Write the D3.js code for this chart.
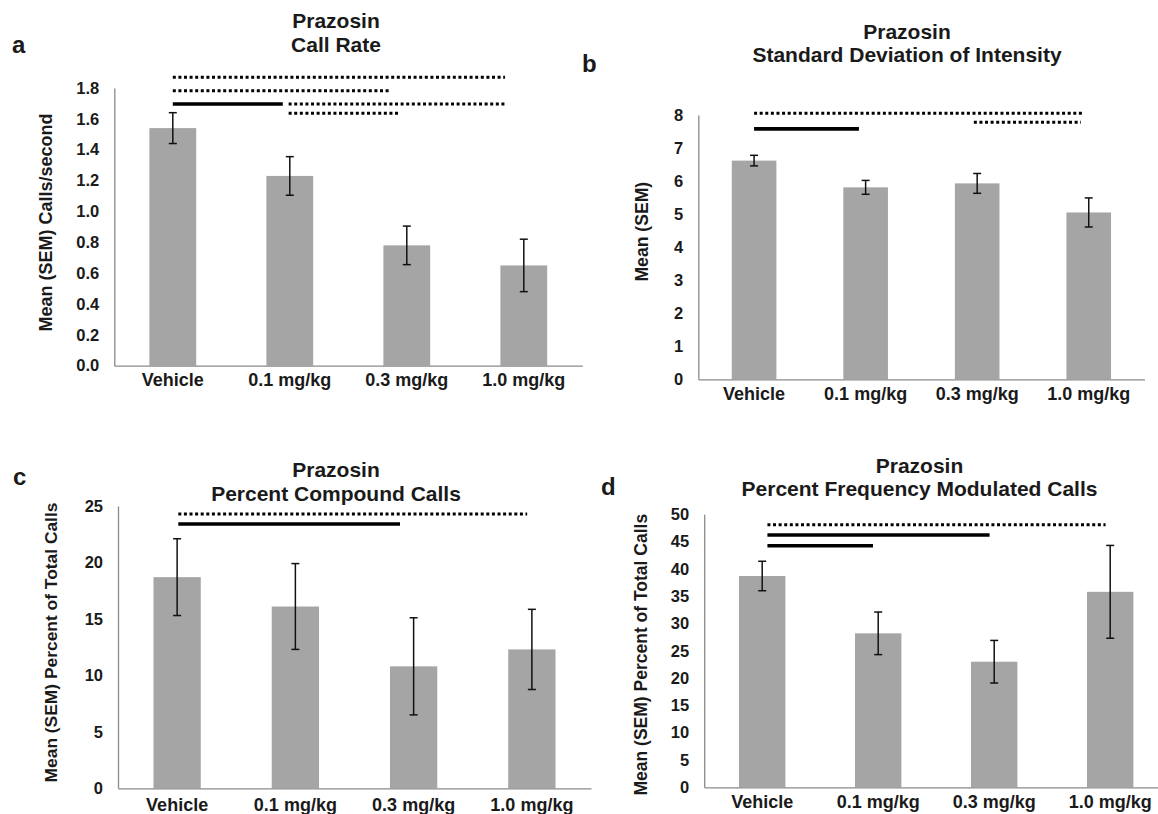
<!DOCTYPE html>
<html>
<head>
<meta charset="utf-8">
<script src="https://cdn.jsdelivr.net/npm/d3@7"></script>
<style>
  html, body { margin: 0; padding: 0; background: #fff; }
  svg { display: block; font-family: "Liberation Sans", Arial, Helvetica, sans-serif; }
  text { font-weight: bold; fill: #1a1a1a; }
</style>
</head>
<body>
<div id="chart"></div>
<script>
// ---------------- DATA ----------------
const categories = ["Vehicle", "0.1 mg/kg", "0.3 mg/kg", "1.0 mg/kg"];

const callRateMean = [1.54, 1.23, 0.78, 0.65];
const callRateSem  = [0.10, 0.125, 0.125, 0.17];
const callRateTicks = [0.0, 0.2, 0.4, 0.6, 0.8, 1.0, 1.2, 1.4, 1.6, 1.8];

const sdIntensityMean = [6.62, 5.81, 5.93, 5.05];
const sdIntensitySem  = [0.16, 0.21, 0.30, 0.44];
const sdIntensityTicks = [0, 1, 2, 3, 4, 5, 6, 7, 8];

const compoundMean = [18.7, 16.1, 10.8, 12.3];
const compoundSem  = [3.4, 3.8, 4.3, 3.55];
const compoundTicks = [0, 5, 10, 15, 20, 25];

const fmMean = [38.7, 28.2, 23.0, 35.8];
const fmSem  = [2.7, 3.9, 3.9, 8.5];
const fmTicks = [0, 5, 10, 15, 20, 25, 30, 35, 40, 45, 50];

// significance bars: from/to in category index units, level in data units
const callRateSig = [
  { from: 0.00, to: 2.84, level: 1.870, dashed: true },
  { from: 0.00, to: 1.85, level: 1.782, dashed: true },
  { from: 0.00, to: 0.94, level: 1.696, dashed: false },
  { from: 0.99, to: 2.85, level: 1.696, dashed: true },
  { from: 0.99, to: 1.93, level: 1.636, dashed: true }
];
const sdIntensitySig = [
  { from: 0.00, to: 2.95, level: 8.05, dashed: true },
  { from: 0.00, to: 0.94, level: 7.58, dashed: false },
  { from: 1.97, to: 2.93, level: 7.78, dashed: true }
];
const compoundSig = [
  { from: 0.01, to: 2.96, level: 24.3, dashed: true },
  { from: 0.01, to: 1.885, level: 23.4, dashed: false }
];
const fmSig = [
  { from: 0.045, to: 2.96, level: 48.1, dashed: true },
  { from: 0.045, to: 1.96, level: 46.2, dashed: false },
  { from: 0.045, to: 0.955, level: 44.25, dashed: false }
];

// ---------------- LAYOUT ----------------
const W = 1158, H = 814;
const svg = d3.select("#chart").append("svg").attr("width", W).attr("height", H);

const panels = [
  { letter: "a", title: ["Prazosin", "Call Rate"], ylabel: "Mean (SEM) Calls/second",
    mean: callRateMean, sem: callRateSem, ticks: callRateTicks, fmt: d3.format(".1f"), max: 1.8, sig: callRateSig,
    x0: 114.3, x1: 582.3, yTop: 88, yBot: 365.7,
    letterX: 12, letterY: 53, titleX: 336, titleY: [28.3, 52.3], ylabelX: 52, ylabelY: 222.5, ylabelSize: 18, xPad: 8 },
  { letter: "b", title: ["Prazosin", "Standard Deviation of Intensity"], ylabel: "Mean (SEM)",
    mean: sdIntensityMean, sem: sdIntensitySem, ticks: sdIntensityTicks, fmt: d3.format("d"), max: 8, sig: sdIntensitySig,
    x0: 698.3, x1: 1144.5, yTop: 115, yBot: 379.3,
    letterX: 582, letterY: 71.7, titleX: 907, titleY: [39, 62.3], ylabelX: 648, ylabelY: 231.7, ylabelSize: 17.6, xPad: 8 },
  { letter: "c", title: ["Prazosin", "Percent Compound Calls"], ylabel: "Mean (SEM) Percent of Total Calls",
    mean: compoundMean, sem: compoundSem, ticks: compoundTicks, fmt: d3.format("d"), max: 25, sig: compoundSig,
    x0: 118, x1: 591, yTop: 506, yBot: 788.3,
    letterX: 13, letterY: 485, titleX: 336, titleY: [477.3, 500.7], ylabelX: 57, ylabelY: 642.5, ylabelSize: 17.4, xPad: 10 },
  { letter: "d", title: ["Prazosin", "Percent Frequency Modulated Calls"], ylabel: "Mean (SEM) Percent of Total Calls",
    mean: fmMean, sem: fmSem, ticks: fmTicks, fmt: d3.format("d"), max: 50, sig: fmSig,
    x0: 704.2, x1: 1168.2, yTop: 514.3, yBot: 787.3,
    letterX: 601, letterY: 495, titleX: 919.5, titleY: [472.7, 496], ylabelX: 647, ylabelY: 654.7, ylabelSize: 17.5, xPad: 8 }
];

const barColor = "#a5a5a5";
const axisColor = "#8a8a8a";

panels.forEach(p => {
  const g = svg.append("g");

  const x = d3.scaleBand().domain(categories).range([p.x0, p.x1]).paddingInner(0.6).paddingOuter(0.3);
  const y = d3.scaleLinear().domain([0, p.max]).range([p.yBot, p.yTop]);
  const step = x.step();
  const idxX = i => p.x0 + step * (i + 0.5);

  // panel letter
  g.append("text").attr("x", p.letterX).attr("y", p.letterY)
    .style("font-size", "24px").text(p.letter);

  // title
  p.title.forEach((t, i) => {
    g.append("text").attr("x", p.titleX).attr("y", p.titleY[i])
      .attr("text-anchor", "middle").style("font-size", "21px").text(t);
  });

  // bars
  const rows = categories.map((c, i) => ({ c, m: p.mean[i], s: p.sem[i] }));
  g.selectAll("rect.bar").data(rows).enter().append("rect")
    .attr("class", "bar")
    .attr("x", d => x(d.c)).attr("width", x.bandwidth())
    .attr("y", d => y(d.m)).attr("height", d => y(0) - y(d.m))
    .attr("fill", barColor);

  // error bars
  const eb = g.selectAll("g.err").data(rows).enter().append("g").attr("class", "err");
  const cx = d => x(d.c) + x.bandwidth() / 2;
  eb.append("line").attr("x1", cx).attr("x2", cx)
    .attr("y1", d => y(d.m - d.s)).attr("y2", d => y(d.m + d.s))
    .attr("stroke", "#111").attr("stroke-width", 1.5);
  [d => d.m - d.s, d => d.m + d.s].forEach(f => {
    eb.append("line").attr("x1", d => cx(d) - 4).attr("x2", d => cx(d) + 4)
      .attr("y1", d => y(f(d))).attr("y2", d => y(f(d)))
      .attr("stroke", "#111").attr("stroke-width", 1.5);
  });

  // axes
  const yAxis = d3.axisLeft(y).tickValues(p.ticks).tickFormat(p.fmt).tickSize(0).tickSizeOuter(0).tickPadding(15);
  const ya = g.append("g").attr("transform", `translate(${p.x0},0)`).call(yAxis);
  ya.selectAll("text").style("font-size", "16.5px").style("font-family", "inherit").attr("fill", "#1a1a1a");
  ya.select(".domain").attr("stroke", axisColor).attr("stroke-width", 1.3);

  const xAxis = d3.axisBottom(x).tickSize(0).tickSizeOuter(0).tickPadding(p.xPad);
  const xa = g.append("g").attr("transform", `translate(0,${p.yBot})`).call(xAxis);
  xa.selectAll("text").style("font-size", "18px").style("font-family", "inherit").attr("fill", "#1a1a1a");
  xa.select(".domain").attr("stroke", axisColor).attr("stroke-width", 1.3);

  // y label
  g.append("text")
    .attr("transform", `translate(${p.ylabelX},${p.ylabelY}) rotate(-90)`)
    .attr("text-anchor", "middle").style("font-size", p.ylabelSize + "px").text(p.ylabel);

  // significance bars
  g.selectAll("line.sig").data(p.sig).enter().append("line")
    .attr("class", "sig")
    .attr("x1", d => idxX(d.from)).attr("x2", d => idxX(d.to))
    .attr("y1", d => y(d.level)).attr("y2", d => y(d.level))
    .attr("stroke", "#000")
    .attr("stroke-width", d => d.dashed ? 3 : 3.6)
    .attr("stroke-dasharray", d => d.dashed ? "3,2.6" : null);
});
</script>
</body>
</html>
